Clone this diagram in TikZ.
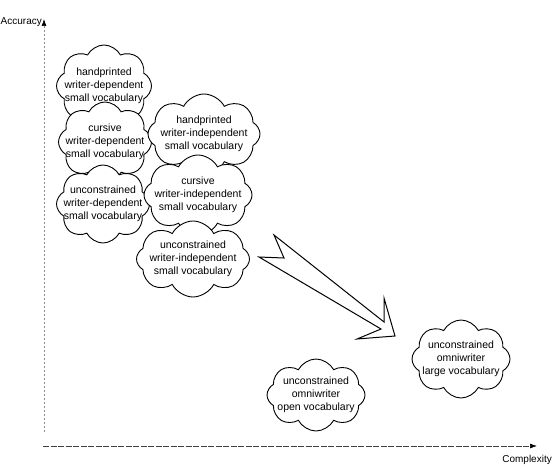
\documentclass[tikz,border=0pt]{standalone}
\usepackage{fontspec}
\setmainfont{Liberation Sans}
\usetikzlibrary{shapes.symbols,arrows.meta}
\begin{document}
\begin{tikzpicture}[x=1pt,y=-1pt,
  cloudshape/.style={cloud, cloud puffs=8, cloud puff arc=125, draw=black, line width=0.9pt, fill=white, inner sep=0pt},
  cloudtext/.style={align=center, font=\fontsize{10.5}{13}\selectfont, inner sep=0pt},
  axisline/.style={line width=0.7pt, dash pattern=on 6pt off 1.5pt, -{Latex[length=7pt,width=5pt,color=black]}},
  axislabel/.style={font=\fontsize{10}{12}\selectfont, inner sep=0pt},
  bigarrow/.style={draw=black, line width=1pt, fill=white, line join=miter}]
\path[use as bounding box] (0,0) rectangle (553,470);

% axes
\coordinate (yb) at (44,432);
\coordinate (yt) at (44,19);
\coordinate (xl) at (43,446);
\coordinate (xr) at (537,446);
\draw[axisline, black!45, dash pattern=on 2pt off 2pt] (yb) -- (yt);
\draw[axisline, black!75] (xl) -- (xr);
\node[axislabel, anchor=base west] (ylab) at (0.5,25) {Accuracy};
\node[axislabel, anchor=base east] (xlab) at (552,462) {Complexity};

% clouds (shapes first, texts layered)
\node[cloudshape, minimum width=95pt, minimum height=82pt] (c1) at (104,86) {};
\node[cloudshape, minimum width=93pt, minimum height=80pt] (c2) at (105,142) {};
\node[cloudshape, minimum width=112pt, minimum height=80pt] (c3) at (204,134) {};
\node[cloudshape, minimum width=93pt, minimum height=78pt] (c4) at (103,204) {};
\node[cloudtext] (t1) at (c1) {handprinted\\writer-dependent\\small vocabulary};
\node[cloudtext] (t2) at (c2) {cursive\\writer-dependent\\small vocabulary};
\node[cloudtext] (t3) at (c3) {handprinted\\writer-independent\\small vocabulary};
\node[cloudtext] (t4) at (c4) {unconstrained\\writer-dependent\\small vocabulary};
\node[cloudshape, minimum width=108pt, minimum height=80pt] (c5) at (198,195) {};
\node[cloudtext] (t5) at (c5) {cursive\\writer-independent\\small vocabulary};
\node[cloudshape, minimum width=113pt, minimum height=76pt] (c6) at (193,259) {};
\node[cloudtext] (t6) at (c6) {unconstrained\\writer-independent\\small vocabulary};
\node[cloudshape, minimum width=98pt, minimum height=78pt] (c7) at (461,359) {};
\node[cloudtext] (t7) at (c7) {unconstrained\\omniwriter\\large vocabulary};
\node[cloudshape, minimum width=98pt, minimum height=72pt] (c8) at (316,395) {};
\node[cloudtext] (t8) at (c8) {unconstrained\\omniwriter\\open vocabulary};

% big hollow arrow
\draw[bigarrow] (274,235) -- (384,322) -- (384,298) -- (395,336) -- (357,339)
  -- (381,329) -- (259,257) -- (284,258) -- cycle;
\end{tikzpicture}
\end{document}
